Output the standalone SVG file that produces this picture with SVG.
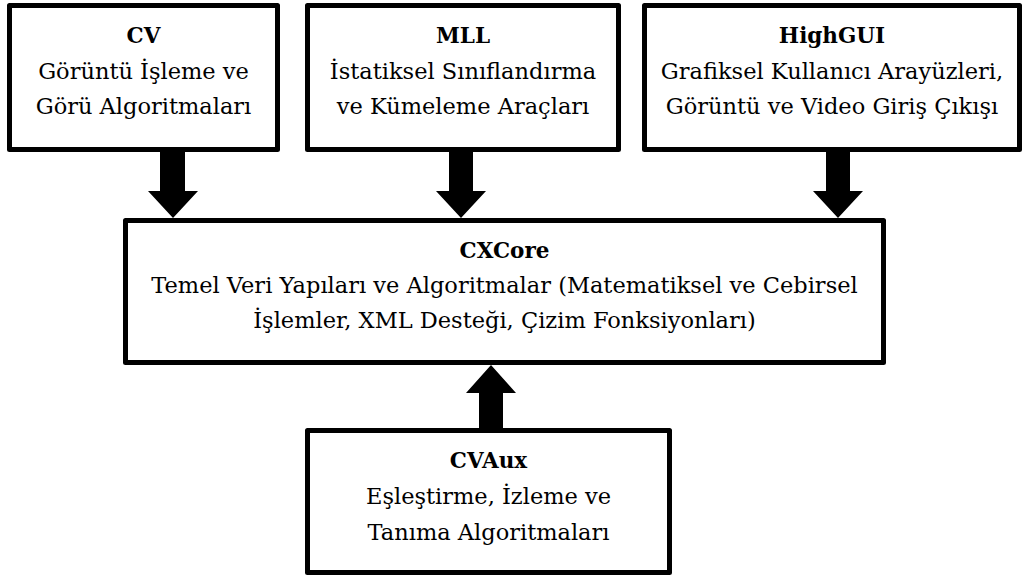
<svg xmlns="http://www.w3.org/2000/svg" width="1024" height="577" viewBox="0 0 1024 577">
<style>
.box{fill:#fff;stroke:#000;stroke-width:5;stroke-linejoin:round}
text{font-family:"DejaVu Serif","Liberation Serif",serif;font-size:22.5px;fill:#000;text-anchor:middle}
.t{font-weight:bold;font-size:21.5px}
.arr{fill:#000}
</style>
<rect width="1024" height="577" fill="#fff"/>
<g id="cv">
<rect class="box" x="9.5" y="5.5" width="268" height="144"/>
<text class="t" x="143.5" y="43">CV</text>
<text x="143.5" y="79">Görüntü İşleme ve</text>
<text x="143.5" y="114">Görü Algoritmaları</text>
</g>
<g id="mll">
<rect class="box" x="307.5" y="5.5" width="311" height="144"/>
<text class="t" x="463" y="43">MLL</text>
<text x="463" y="79">İstatiksel Sınıflandırma</text>
<text x="463" y="114">ve Kümeleme Araçları</text>
</g>
<g id="highgui">
<rect class="box" x="644.5" y="5.5" width="375" height="144"/>
<text class="t" x="832" y="43">HighGUI</text>
<text x="832" y="79">Grafiksel Kullanıcı Arayüzleri,</text>
<text x="832" y="114">Görüntü ve Video Giriş Çıkışı</text>
</g>
<g id="cxcore">
<rect class="box" x="125.5" y="220.5" width="758" height="142"/>
<text class="t" x="504.5" y="258">CXCore</text>
<text x="504.5" y="293">Temel Veri Yapıları ve Algoritmalar (Matematiksel ve Cebirsel</text>
<text x="504.5" y="328">İşlemler, XML Desteği, Çizim Fonksiyonları)</text>
</g>
<g id="cvaux">
<rect class="box" x="307.5" y="430.5" width="362" height="142"/>
<text class="t" x="488.5" y="468">CVAux</text>
<text x="488.5" y="504">Eşleştirme, İzleme ve</text>
<text x="488.5" y="540">Tanıma Algoritmaları</text>
</g>
<g id="connectors">
<polygon class="arr" points="160,150 185,150 185,191 198,191 173,218 148,191 160,191"/>
<polygon class="arr" points="449,150 473,150 473,191 486,191 461,218 436,191 449,191"/>
<polygon class="arr" points="826,150 850,150 850,191 863,191 838,218 813,191 826,191"/>
<polygon class="arr" points="479,430 503,430 503,393 516,393 491,365 466,393 479,393"/>
</g>
</svg>
